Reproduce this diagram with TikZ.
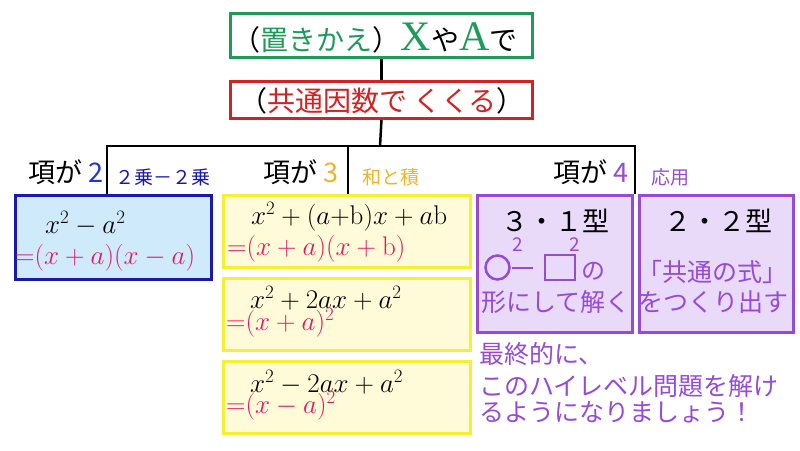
\RequirePackage{fix-cm}
\documentclass[tikz,border=0pt]{standalone}
\usepackage{fontspec}
\newfontfamily\jpfont{Noto Sans CJK JP}
\newfontfamily\latfont{Liberation Serif}
\definecolor{kgreen}{RGB}{30,155,90}
\definecolor{kred}{RGB}{210,35,35}
\definecolor{kblue}{RGB}{25,25,175}
\definecolor{klblue}{RGB}{30,55,205}
\definecolor{kbluefill}{RGB}{206,234,251}
\definecolor{kpink}{RGB}{225,25,105}
\definecolor{kyellow}{RGB}{245,240,50}
\definecolor{kyellowfill}{RGB}{255,250,215}
\definecolor{korange}{RGB}{240,180,40}
\definecolor{kpurple}{RGB}{150,75,215}
\definecolor{kpurplefill}{RGB}{233,218,250}
\newcommand\bigvar[1]{{\latfont\fontsize{42}{42}\selectfont\color{kgreen}#1}}
\begin{document}
\begin{tikzpicture}[x=1pt,y=-1pt,
  box/.style 2 args={draw, line width=3pt, anchor=north west, inner sep=0pt, minimum width=#1pt, minimum height=#2pt},
  jp/.style={font=\jpfont\fontsize{#1}{#1}\selectfont, inner sep=0pt}, jp/.default=28,
  eq/.style={font=\fontsize{27}{31}\selectfont, inner sep=0pt, anchor=base west},
  tree/.style={line width=2.5pt}]
  \fill[white] (0,0) rectangle (800,450);
  \useasboundingbox (0,0) rectangle (800,450);
  % tree lines
  \coordinate (hub) at (380,146);
  \coordinate (k2) at (107,194);
  \coordinate (k3) at (348,194);
  \coordinate (k4) at (635,194);
  \draw[tree] (k2) -- (k2 |- hub) -- (k4 |- hub) -- (k4);
  \draw[tree] (k3) -- (k3 |- hub);
  % boxes
  \node (sub) at (229,12) [box={302}{44}, draw=kgreen]{};
  \node (fac) at (229,80) [box={302}{37}, draw=kred]{};
  \draw[tree] (sub.south) -- (fac.north);
  \draw[tree] (fac.south) -- (hub);
  \node (two) at (14,194) [box={196}{84}, draw=kblue, fill=kbluefill]{};
  \foreach \i/\y in {1/194,2/277,3/360}
  \node (tri\i) at (222,\y) [box={247}{72}, draw=kyellow, fill=kyellowfill]{};
  \node (four1) at (476,194) [box={155}{137}, draw=kpurple, fill=kpurplefill]{};
  \node (four2) at (638,194) [box={154}{137}, draw=kpurple, fill=kpurplefill]{};
  % top texts
  \node (subtxt) at (375,50) [jp, anchor=base]{（{\color{kgreen}置きかえ}）\bigvar{X}や\bigvar{A}で};
  \node (factxt) at (382,111) [jp, anchor=base]{（{\color{kred}共通因数で くくる}）};
  % branch labels
  \node (t2) at (104,182) [jp=27, anchor=base east]{項が\hspace{6pt}{\color{klblue}2}};
  \node (s2) at (115,184) [jp=19, anchor=base west, text=kblue]{２乗－２乗};
  \node (t3) at (339,182) [jp=27, anchor=base east]{項が\hspace{6pt}{\color{korange}3}};
  \node (s3) at (362,184) [jp=19, anchor=base west, text=korange]{和と積};
  \node (t4) at (629,182) [jp=27, anchor=base east]{項が\hspace{6pt}{\color{kpurple}4}};
  \node (s4) at (651,184) [jp=19, anchor=base west, text=kpurple]{応用};
  % formulas
  \node (two1) at (45,233) [eq]{$x^2-a^2$};
  \node (two2) at (15,264) [eq, text=kpink]{${=}(x+a)(x-a)$};
  \node (tri1a) at (251,224) [eq]{$x^2+(a{+}\mathrm{b})x+a\mathrm{b}$};
  \node (tri1b) at (227,255.5) [eq, text=kpink]{${=}(x+a)(x+\mathrm{b})$};
  \node (tri2a) at (250,308) [eq]{$x^2+2ax+a^2$};
  \node (tri2b) at (226,330.5) [eq, text=kpink]{${=}(x+a)^2$};
  \node (tri3a) at (250,392) [eq]{$x^2-2ax+a^2$};
  \node (tri3b) at (226,413.5) [eq, text=kpink]{${=}(x-a)^2$};
  % four terms
  \node (four1a) at (555,231) [jp=27, anchor=base]{３・１型};
  \draw[kpurple, line width=2.5pt] (497.5,267.5) circle (12);
  \draw[kpurple, line width=2.5pt] (512,268) -- (533,268);
  \draw[kpurple, line width=2.5pt] (545,255) rectangle (575,280);
  \node (sq1) at (517.5,245) [jp=19, text=kpurple]{2};
  \node (sq2) at (575,245) [jp=19, text=kpurple]{2};
  \node (no) at (593,271) [jp=24, text=kpurple]{の};
  \node (four1c) at (556,311) [jp=25, anchor=base, text=kpurple]{形にして解く};
  \node (four2a) at (718,231) [jp=27, anchor=base]{２・２型};
  \node (four2b) at (712,281) [jp=25, anchor=base, text=kpurple]{「共通の式」};
  \node (four2c) at (713,311) [jp=25, anchor=base, text=kpurple]{をつくり出す};
  % closing words
  \node (fin1) at (479,363) [jp=25, anchor=base west, text=kpurple]{最終的に、};
  \node (fin2) at (479,395) [jp=25, anchor=base west, text=kpurple]{このハイレベル問題を解け};
  \node (fin3) at (479,421) [jp=25, anchor=base west, text=kpurple]{るようになりましょう！};
\end{tikzpicture}
\end{document}
